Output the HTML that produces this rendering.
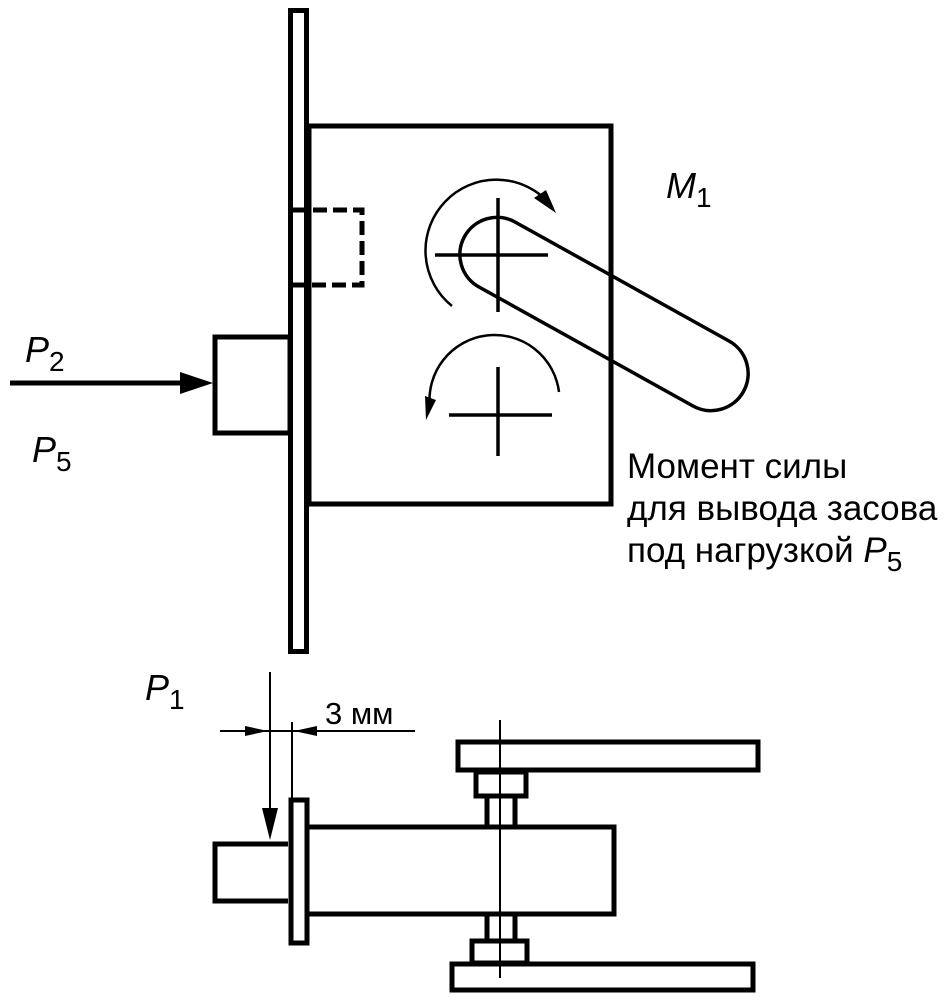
<!DOCTYPE html>
<html><head><meta charset="utf-8"><style>html,body{margin:0;padding:0;background:#fff}svg{display:block}</style></head><body>
<svg width="947" height="997" viewBox="0 0 947 997" xmlns="http://www.w3.org/2000/svg" font-family="Liberation Sans, sans-serif">
<g fill="none" stroke="#000" stroke-width="5">
<rect x="290.5" y="10.5" width="16" height="641"/>
<rect x="309" y="126" width="302" height="378"/>
<rect x="215" y="337" width="75" height="96"/>
<path d="M293,210 H362 V285 H293" stroke-dasharray="14,6"/>
</g>
<line x1="10" y1="383" x2="185" y2="383" stroke="#000" stroke-width="5"/>
<path d="M180,372 L213,383 L180,394 Z" fill="#000"/>
<g fill="none" stroke="#000" stroke-width="3.5">
<path d="M515,222 L729,341 A37,37 0 0 1 693,406 L479,287 A37,37 0 0 1 515,222 Z"/>
<line x1="498" y1="198" x2="498" y2="312"/>
<line x1="435" y1="255" x2="548" y2="255"/>
<line x1="498" y1="367" x2="498" y2="456"/>
<line x1="449" y1="415" x2="552" y2="415"/>
<path d="M452,306 A71,71 0 1 1 550,204" stroke-width="2.5"/>
<path d="M559,392 A64,64 0 0 0 430,408" stroke-width="2.5"/>
</g>
<path d="M556,213 L534,198 L546,190 Z" fill="#000"/>
<path d="M426,420 L425,396 L436,400 Z" fill="#000"/>
<g fill="none" stroke="#000" stroke-width="5">
<rect x="291" y="800" width="16" height="143"/>
<path d="M307,827 H614 V914 H307"/>
<path d="M288,844 H215 V901 H288"/>
<rect x="458" y="742" width="300" height="28"/>
<rect x="476" y="772" width="50" height="24"/>
<rect x="472" y="941" width="55" height="22"/>
<rect x="452" y="964" width="301" height="26"/>
</g>
<g fill="none" stroke="#000" stroke-width="5">
<line x1="487" y1="797" x2="487" y2="826"/>
<line x1="515" y1="797" x2="515" y2="826"/>
<line x1="487" y1="915" x2="487" y2="940"/>
<line x1="515" y1="915" x2="515" y2="940"/>
</g>
<g stroke="#000" stroke-width="2">
<line x1="500" y1="720" x2="500" y2="978"/>
<line x1="220" y1="731" x2="415" y2="731"/>
<line x1="292" y1="722" x2="292" y2="798"/>
<line x1="270" y1="672" x2="270" y2="810"/>
</g>
<path d="M262,808 L278,808 L270,840 Z" fill="#000"/>
<path d="M245,726 L268,731 L245,736 Z" fill="#000"/>
<path d="M317,726 L294,731 L317,736 Z" fill="#000"/>
<g fill="#000" font-size="36">
<text x="25" y="362" font-style="italic">P<tspan font-style="normal" font-size="28" dy="9">2</tspan></text>
<text x="32" y="462" font-style="italic">P<tspan font-style="normal" font-size="28" dy="9">5</tspan></text>
<text x="666" y="198" font-style="italic">M<tspan font-style="normal" font-size="28" dy="9">1</tspan></text>
<text x="145" y="700" font-style="italic">P<tspan font-style="normal" font-size="28" dy="9">1</tspan></text>
<text x="325" y="724" font-size="31">3 мм</text>
<text x="627" y="478" font-size="35">Момент силы</text>
<text x="627" y="520" font-size="35">для вывода засова</text>
<text x="627" y="562" font-size="35">под нагрузкой <tspan font-style="italic">P</tspan><tspan font-size="28" dy="9">5</tspan></text>
</g>
</svg>
</body></html>
